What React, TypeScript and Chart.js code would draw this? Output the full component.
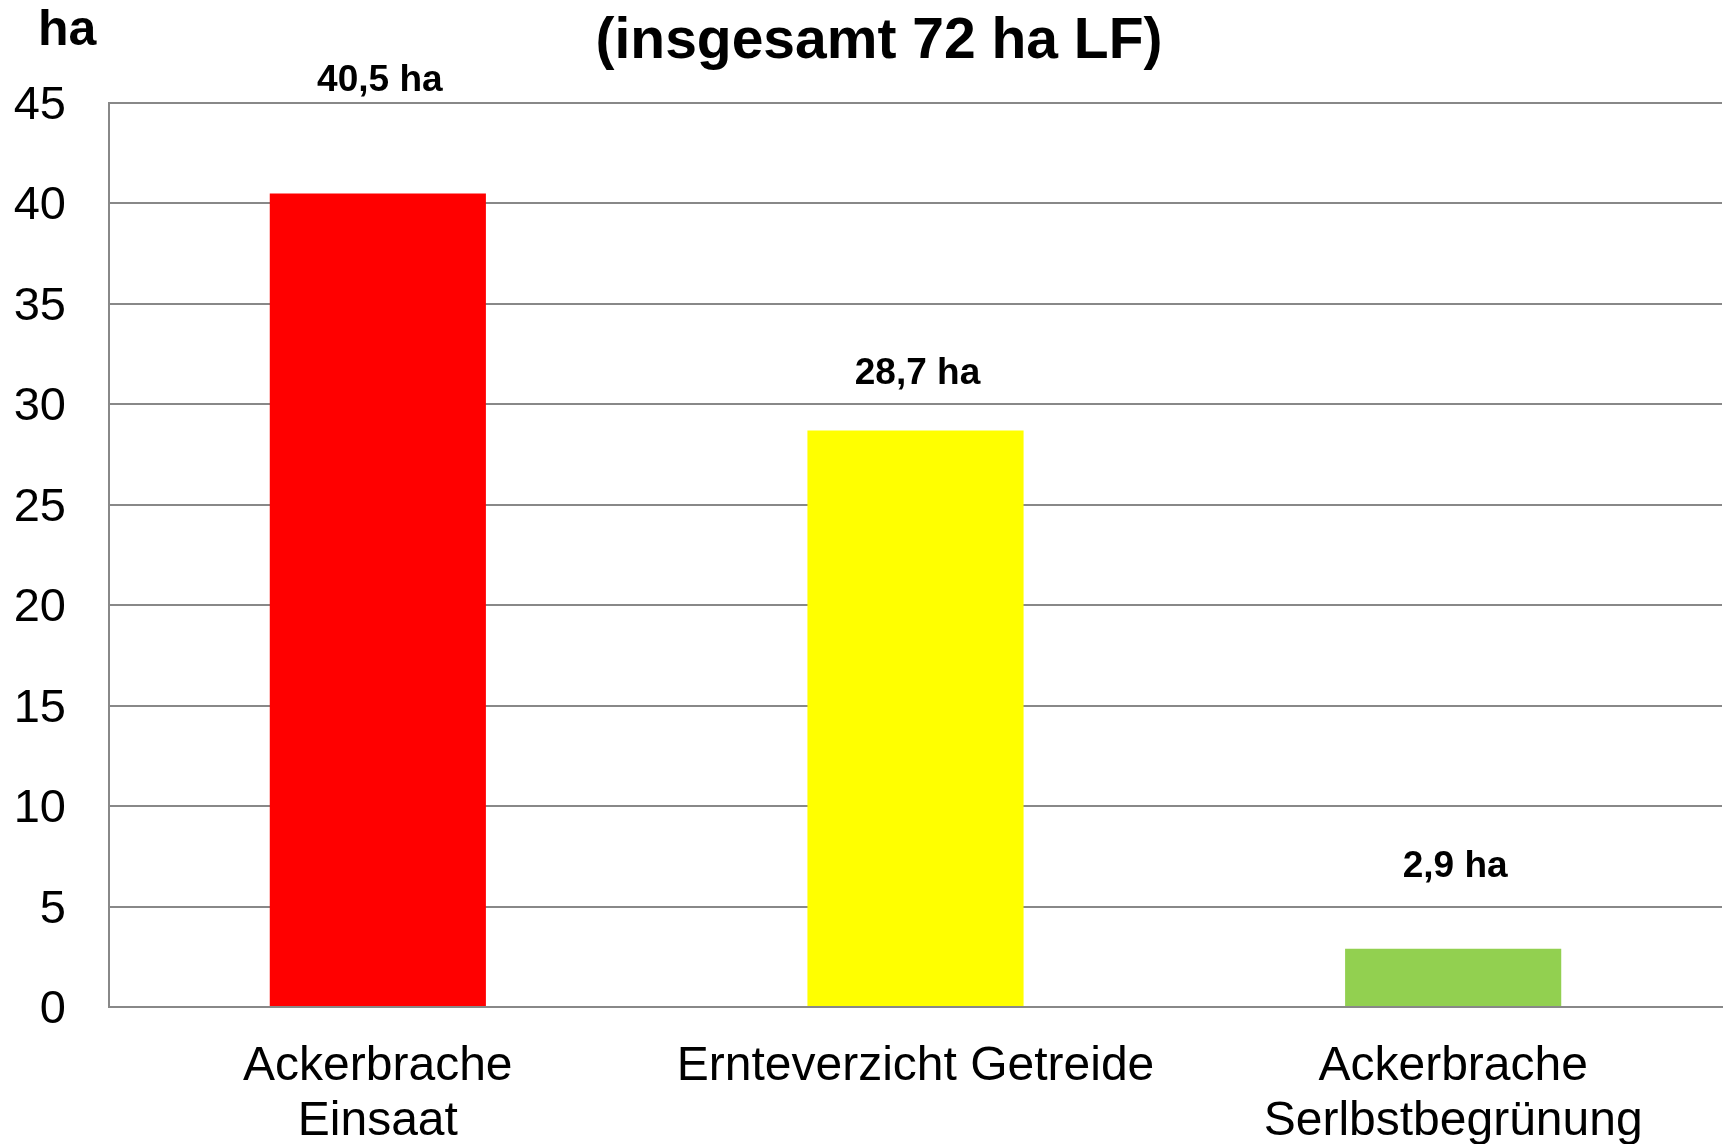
import React, { useEffect, useRef } from "react";
import { Chart, registerables } from "chart.js";

Chart.register(...registerables);

const categories: (string | string[])[] = [
  ["Ackerbrache", "Einsaat"],
  "Ernteverzicht Getreide",
  ["Ackerbrache", "Serlbstbegrünung"],
];
const values: number[] = [40.5, 28.7, 2.9];
const valueLabels: string[] = ["40,5 ha", "28,7 ha", "2,9 ha"];
const barColors: string[] = ["#FF0000", "#FFFF00", "#92D050"];
const yTicks = { min: 0, max: 45, step: 5 };
const titleText = "(insgesamt 72 ha LF)";
const unitText = "ha";

const FONT = "'Liberation Sans', Arial, Helvetica, sans-serif";
const GRID = "#888888";
// vertical gap (px) between each bar top and the baseline of its value label
const labelGaps = [102, 46, 72];

const overlayPlugin = {
  id: "overlay",
  afterDraw(chart: any) {
    const ctx = chart.ctx;
    ctx.save();
    ctx.fillStyle = "#000";
    // title
    ctx.font = `bold 57px ${FONT}`;
    ctx.textAlign = "center";
    ctx.textBaseline = "alphabetic";
    ctx.fillText(titleText, 879, 58);
    // unit
    ctx.font = `bold 50px ${FONT}`;
    ctx.textAlign = "left";
    ctx.fillText(unitText, 38, 45);
    // value labels
    const meta = chart.getDatasetMeta(0);
    ctx.font = `bold 37px ${FONT}`;
    ctx.textAlign = "center";
    meta.data.forEach((bar: any, i: number) => {
      ctx.fillText(valueLabels[i], bar.x + 2, bar.y - labelGaps[i]);
    });
    ctx.restore();
  },
};

export default function App() {
  const ref = useRef<HTMLCanvasElement | null>(null);
  useEffect(() => {
    document.body.style.margin = "0";
    const canvas = ref.current!;
    const chart = new Chart(canvas, {
      type: "bar",
      data: {
        labels: categories,
        datasets: [
          {
            data: values,
            backgroundColor: barColors,
            borderWidth: 0,
            barPercentage: 0.402,
            categoryPercentage: 1,
          },
        ],
      },
      options: {
        responsive: false,
        animation: false,
        devicePixelRatio: 1,
        layout: { padding: { top: 103, right: 7, left: 0, bottom: 0 } },
        plugins: {
          legend: { display: false },
          tooltip: { enabled: false },
          title: { display: false },
        },
        scales: {
          x: {
            grid: { display: false, drawTicks: false },
            border: { display: true, color: GRID, width: 2 },
            ticks: {
              color: "#000",
              font: { family: FONT, size: 48, lineHeight: 55 / 48 },
              padding: 32,
              autoSkip: false,
              maxRotation: 0,
              minRotation: 0,
            },
            afterFit(scale: any) {
              scale.height = 137;
            },
          },
          y: {
            min: yTicks.min,
            max: yTicks.max,
            grid: { color: GRID, lineWidth: 2, drawTicks: false },
            border: { display: true, color: GRID, width: 2 },
            ticks: {
              stepSize: yTicks.step,
              color: "#000",
              font: { family: FONT, size: 47 },
              padding: 43,
              labelOffset: 3,
            },
            afterFit(scale: any) {
              scale.width = 109;
            },
          },
        },
      },
      plugins: [overlayPlugin],
    });
    return () => chart.destroy();
  }, []);
  return (
    <div style={{ width: 1729, height: 1144, background: "#fff" }}>
      <canvas ref={ref} width={1729} height={1144} style={{ display: "block" }} />
    </div>
  );
}
